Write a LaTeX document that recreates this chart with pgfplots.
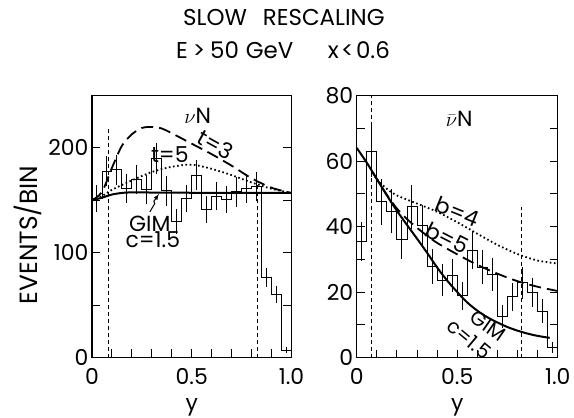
\documentclass[border=0pt]{standalone}
\usepackage{fontspec}
\setmainfont{Poppins}
\usepackage{pgfplots}
\pgfplotsset{compat=1.18}

\newcommand{\lab}{\fontsize{22}{26}\selectfont}
\newcommand{\ttl}{\fontsize{23}{27}\selectfont}

\pgfplotsset{
  panel/.style={
    scale only axis, height=262bp,
    xmin=0, xmax=1,
    axis line style={line width=1.2bp},
    tick style={line width=1bp, black},
    tick align=inside,
    major tick length=8bp, minor tick length=8bp,
    xtick pos=bottom, ytick pos=both,
    xtick={0,0.5,1}, xticklabels={0,0.5,1.0},
    minor xtick={0.1,0.2,0.3,0.4,0.6,0.7,0.8,0.9},
    tick label style={font=\lab},
    xticklabel style={yshift=-7bp},
    /pgf/number format/assume math mode=true,
    xlabel={y},
    xlabel style={font=\lab, at={(axis description cs:0.5,0)}, anchor=center, yshift=-50bp},
    clip=false,
  },
  hist/.style={const plot mark left, black, line width=0.9bp},
  errs/.style={draw=none, mark=none, error bars/.cd, y dir=both, y explicit,
    error mark=none, error bar style={draw=black, solid, line width=1bp}},
  vline/.style={black, line width=0.8bp, dash pattern=on 4bp off 3bp},
  longdash/.style={black, line width=1.8bp, dash pattern=on 12bp off 6bp, smooth},
  dots/.style={black, line width=1.8bp, dash pattern=on 1.6bp off 2.6bp, smooth},
  gim/.style={black, line width=2bp, smooth},
}

\begin{document}
\begin{tikzpicture}
\path[use as bounding box] (-92bp,-60.5bp) rectangle (482bp,357.5bp);

% nu N
\begin{axis}[panel, width=199.5bp, at={(0bp,0bp)},
  ymin=0, ymax=250,
  ytick={0,100,200}, minor ytick={50,150},
  ylabel={EVENTS/BIN},
  ylabel style={font=\fontsize{25}{29}\selectfont, at={(axis description cs:-0.32,0.468)}, anchor=center},
]
\addplot[hist] coordinates {(0,152) (0.05,178) (0.1,179) (0.15,161) (0.2,170) (0.25,160) (0.3,190) (0.35,159) (0.4,130) (0.45,152) (0.5,174) (0.55,141) (0.6,154) (0.65,151) (0.7,158) (0.75,161) (0.8,163) (0.85,76) (0.9,60) (0.95,7) (1.0,7)};
\addplot[errs] coordinates {
  (0.025,152) +- (0,13) (0.075,178) +- (0,14) (0.125,179) +- (0,14) (0.175,161) +- (0,14)
  (0.225,170) +- (0,14) (0.275,160) +- (0,14) (0.325,190) +- (0,15) (0.375,159) +- (0,14)
  (0.425,130) +- (0,12) (0.475,152) +- (0,13) (0.525,174) +- (0,14) (0.575,141) +- (0,13)
  (0.625,154) +- (0,13) (0.675,151) +- (0,13) (0.725,158) +- (0,14) (0.775,161) +- (0,14)
  (0.825,163) +- (0,14) (0.875,76) +- (0,9) (0.925,60) +- (0,8) (0.975,7) +- (0,3)};
\addplot[vline] coordinates {(0.08,0) (0.08,218)};
\addplot[vline] coordinates {(0.83,0) (0.83,165)};
\addplot[longdash] coordinates {(0,150) (0.05,158) (0.1,181) (0.15,202) (0.2,213) (0.25,219) (0.3,220) (0.35,218.5) (0.4,214) (0.5,204) (0.6,194) (0.7,183) (0.8,171) (0.9,162) (1.0,157)};
\addplot[dots] coordinates {(0,150) (0.05,154) (0.1,160) (0.2,169) (0.3,177) (0.4,182) (0.5,184) (0.6,180) (0.7,174) (0.8,167) (0.9,161) (1.0,157)};
\addplot[gim] coordinates {(0,150) (0.05,152.5) (0.1,155.5) (0.15,157) (0.2,157.5) (0.4,157.3) (0.7,157) (1.0,157)};
\node[font=\lab] at (axis cs:0.53,231) {$\nu$N};
\node[font=\lab, rotate=-29, inner sep=0bp] at (axis cs:0.62,203) {t=3};
\node[font=\lab, inner sep=0bp] at (axis cs:0.39,194) {t=5};
\node[font=\lab, inner sep=0bp] at (axis cs:0.29,128) {GIM};
\node[font=\lab, inner sep=0bp] at (axis cs:0.305,112) {c=1.5};
\draw[-latex, line width=1bp] (axis cs:0.29,139) -- (axis cs:0.315,147) -- (axis cs:0.31,149) -- (axis cs:0.335,156);
\node[font=\ttl] at (rel axis cs:0.962,1.298) {SLOW\hspace{0.7em}RESCALING};
\node[font=\ttl] at (rel axis cs:0.957,1.174) {E\hspace{0.22em}>\hspace{0.22em}50\hspace{0.3em}GeV\hspace{1.5em}x\hspace{0.1em}<\hspace{0.1em}0.6};
\end{axis}

% anti-nu N
\begin{axis}[panel, width=201bp, at={(264.7bp,0bp)},
  ymin=0, ymax=80,
  ytick={0,20,40,60,80}, minor ytick={10,30,50,70},
]
\addplot[hist] coordinates {(0,35.5) (0.05,63) (0.1,47.5) (0.15,44.7) (0.2,36) (0.25,46) (0.3,40.3) (0.35,27.8) (0.4,23.6) (0.45,25) (0.5,18.8) (0.55,32.8) (0.6,27.5) (0.65,25.3) (0.7,12.5) (0.75,18.6) (0.8,22.8) (0.85,19.8) (0.9,14.2) (0.95,3) (1.0,3)};
\addplot[errs] coordinates {
  (0.025,35.5) +- (0,6) (0.075,63) +- (0,8) (0.125,47.5) +- (0,6.9) (0.175,44.7) +- (0,6.7)
  (0.225,36) +- (0,6) (0.275,46) +- (0,6.8) (0.325,40.3) +- (0,6.3) (0.375,27.8) +- (0,5.3)
  (0.425,23.6) +- (0,4.9) (0.475,25) +- (0,5) (0.525,18.8) +- (0,4.3) (0.575,32.8) +- (0,5.7)
  (0.625,27.5) +- (0,5.2) (0.675,25.3) +- (0,5) (0.725,12.5) +- (0,3.5) (0.775,18.6) +- (0,4.3)
  (0.825,22.8) +- (0,4.8) (0.875,19.8) +- (0,4.4) (0.925,14.2) +- (0,3.8) (0.975,3) +- (0,1.7)};
\addplot[vline] coordinates {(0.075,0) (0.075,80)};
\addplot[vline] coordinates {(0.82,0) (0.82,46)};
\addplot[dots] coordinates {(0.08,56.5) (0.1,54.5) (0.15,51.5) (0.2,49.5) (0.3,47) (0.4,44.5) (0.5,41.3) (0.6,37.8) (0.7,34.4) (0.8,31.6) (0.9,29.6) (1.0,28.7)};
\addplot[longdash] coordinates {(0.08,56.5) (0.1,54.5) (0.15,49.7) (0.2,45.5) (0.25,42.3) (0.3,39.6) (0.35,37.2) (0.4,35) (0.5,31.5) (0.6,28.3) (0.7,25.6) (0.8,23.3) (0.9,21.6) (1.0,20.3)};
\addplot[gim] coordinates {(0,64) (0.05,59.5) (0.1,54.5) (0.15,49.5) (0.2,44.8) (0.25,40.5) (0.3,36.3) (0.35,32) (0.4,27.5) (0.45,23.5) (0.5,20) (0.55,16.8) (0.6,14.3) (0.65,12.3) (0.7,10.7) (0.75,9.3) (0.8,8.2) (0.85,7.3) (0.9,6.6) (0.96,6)};
\node[font=\lab] at (axis cs:0.51,73) {$\bar\nu$N};
\node[font=\lab, rotate=-22, inner sep=0bp] at (axis cs:0.5,44.5) {b=4};
\node[font=\lab, rotate=-27, inner sep=0bp] at (axis cs:0.45,36.5) {b=5};
\node[font=\fontsize{20}{24}\selectfont, rotate=-35, inner sep=0bp] at (axis cs:0.655,9.6) {GIM};
\node[font=\fontsize{20}{24}\selectfont, rotate=-40, inner sep=0bp] at (axis cs:0.56,5.6) {c=1.5};
\end{axis}
\end{tikzpicture}
\end{document}
